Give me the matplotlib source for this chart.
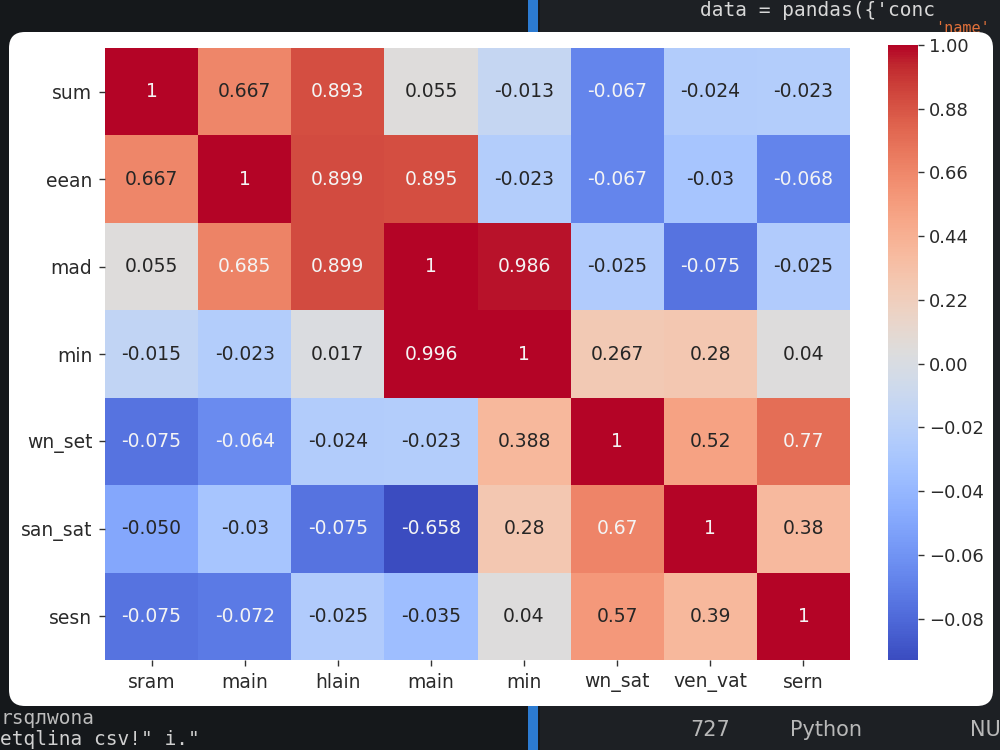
import numpy as np
import matplotlib.pyplot as plt
from matplotlib.colors import FuncNorm
from matplotlib.patches import FancyBboxPatch, Rectangle

row_labels = ["sum", "eean", "mad", "min", "wn_set", "san_sat", "sesn"]
col_labels = ["sram", "main", "hlain", "main", "min", "wn_sat", "ven_vat", "sern"]

# annotations exactly as printed in the cells
cell_text = [
    ["1", "0.667", "0.893", "0.055", "-0.013", "-0.067", "-0.024", "-0.023"],
    ["0.667", "1", "0.899", "0.895", "-0.023", "-0.067", "-0.03", "-0.068"],
    ["0.055", "0.685", "0.899", "1", "0.986", "-0.025", "-0.075", "-0.025"],
    ["-0.015", "-0.023", "0.017", "0.996", "1", "0.267", "0.28", "0.04"],
    ["-0.075", "-0.064", "-0.024", "-0.023", "0.388", "1", "0.52", "0.77"],
    ["-0.050", "-0.03", "-0.075", "-0.658", "0.28", "0.67", "1", "0.38"],
    ["-0.075", "-0.072", "-0.025", "-0.035", "0.04", "0.57", "0.39", "1"],
]
values = np.array([[float(t) for t in row] for row in cell_text])

# colorbar ticks sit at equal spacing although their values do not
cbar_ticks = [-0.08, -0.06, -0.04, -0.02, 0.00, 0.22, 0.44, 0.66, 0.88, 1.00]
cbar_min = -0.093
cbar_max = 1.00

_xp = [-0.10, -0.08, -0.06, -0.04, -0.02, 0.00, 0.22, 0.44, 0.66, 0.88, 1.00, 1.12]
_fp = np.arange(len(_xp), dtype=float) - 1.0


def forward(x):
    return np.interp(x, _xp, _fp)


def inverse(y):
    return np.interp(y, _fp, _xp)


norm = FuncNorm((forward, inverse), vmin=cbar_min, vmax=cbar_max, clip=True)
cmap = plt.get_cmap("coolwarm")

fig = plt.figure(figsize=(10, 7.5), dpi=100)
fig.patch.set_facecolor("#15181b")

# editor-like backdrop
fig.patches.append(Rectangle((0.54, 0), 0.46, 1, transform=fig.transFigure,
                             facecolor="#1d2024", edgecolor="none", zorder=-3))
fig.patches.append(Rectangle((0.528, 0), 0.010, 1, transform=fig.transFigure,
                             facecolor="#2c7bd1", edgecolor="none", zorder=-2))
mono = "DejaVu Sans Mono"
fig.text(0.70, 0.999, "data = pandas({'conc", color="#d8d8d8", fontsize=14,
         family=mono, va="top", zorder=-2)
fig.text(0.935, 0.972, "'name'", color="#e0703a", fontsize=11,
         family=mono, va="top", zorder=-2)
fig.text(0.0, 0.042, "rsqлwona", color="#bdbdbd", fontsize=14,
         family=mono, va="center", zorder=-2)
fig.text(0.0, 0.014, "etqlina csv!\" i.\"", color="#d0d0d0", fontsize=14,
         family=mono, va="center", zorder=-2)
fig.text(0.690, 0.027, "727", color="#b8b8b8", fontsize=15, va="center", zorder=-2)
fig.text(0.790, 0.027, "Python", color="#b8b8b8", fontsize=15, va="center", zorder=-2)
fig.text(0.970, 0.027, "NU", color="#b8b8b8", fontsize=15, va="center", zorder=-2)

# white rounded card holding the chart
card = FancyBboxPatch((0.09, 0.44), 9.84, 6.74,
                      boxstyle="round,pad=0,rounding_size=0.16",
                      transform=fig.dpi_scale_trans,
                      facecolor="white", edgecolor="none", zorder=-1)
fig.patches.append(card)

ax = fig.add_axes([0.105, 0.12, 0.745, 0.816])
cax = fig.add_axes([0.888, 0.12, 0.030, 0.82])

mesh = ax.pcolormesh(values, cmap=cmap, norm=norm)
ax.set_xlim(0, values.shape[1])
ax.set_ylim(values.shape[0], 0)

rgba = cmap(norm(values))
for i in range(values.shape[0]):
    for j in range(values.shape[1]):
        r, g, b, _ = rgba[i, j]
        lum = 0.2126 * r + 0.7152 * g + 0.0722 * b
        color = "#f4f4f4" if lum < 0.6 else "#262626"
        ax.text(j + 0.5, i + 0.5, cell_text[i][j], ha="center", va="center",
                fontsize=13.5, color=color)

ax.set_xticks(np.arange(values.shape[1]) + 0.5)
ax.set_xticklabels(col_labels)
ax.set_yticks(np.arange(values.shape[0]) + 0.5)
ax.set_yticklabels(row_labels)
ax.tick_params(axis="both", labelsize=13.5, length=4, width=1,
               color="#333333", labelcolor="#2a2a2a", pad=5)
for spine in ax.spines.values():
    spine.set_visible(False)

cbar = fig.colorbar(mesh, cax=cax, ticks=cbar_ticks)
cbar.set_ticklabels([f"{v:.2f}".replace("-", "\u2212") for v in cbar_ticks])
cbar.outline.set_visible(False)
cax.tick_params(labelsize=13, length=4, width=1, color="#333333",
                labelcolor="#2a2a2a", pad=4)
cax.minorticks_off()

fig.savefig("out.png", dpi=100, facecolor=fig.get_facecolor())
